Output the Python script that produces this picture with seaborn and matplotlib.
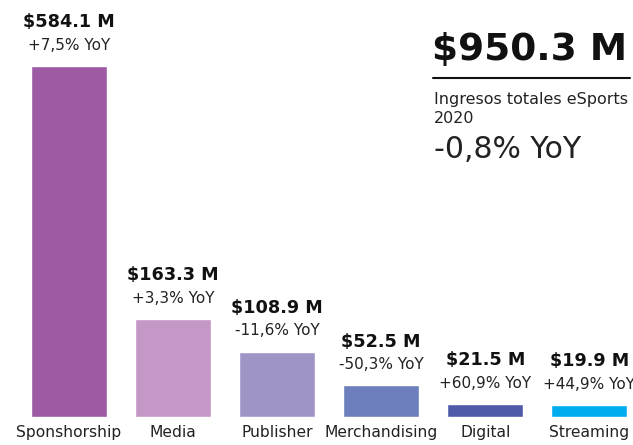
import matplotlib
matplotlib.use("Agg")
import matplotlib.pyplot as plt
import seaborn as sns
import pandas as pd

categories = ["Sponshorship", "Media", "Publisher", "Merchandising", "Digital", "Streaming"]
values = [584.1, 163.3, 108.9, 52.5, 21.5, 19.9]
value_labels = ["$584.1 M", "$163.3 M", "$108.9 M", "$52.5 M", "$21.5 M", "$19.9 M"]
yoy_labels = ["+7,5% YoY", "+3,3% YoY", "-11,6% YoY", "-50,3% YoY", "+60,9% YoY", "+44,9% YoY"]
colors = ["#9C5BA3", "#C597C6", "#A093C6", "#6D7FBC", "#4F5BA8", "#00AEEF"]
total_label = "$950.3 M"
total_desc = "Ingresos totales eSports\n2020"
total_yoy = "-0,8% YoY"

sns.set_theme(style="white")
plt.rcParams['font.family'] = ['DejaVu Sans']

df = pd.DataFrame({"cat": categories, "val": values})

fig = plt.figure(figsize=(6.33, 4.45), dpi=100)
ax = fig.add_axes([17/633, (445-417)/445, 616/633, 417/445])
sns.barplot(data=df, x="cat", y="val", hue="cat", palette=colors, legend=False,
            width=0.73, ax=ax, saturation=1)
ax.set_xlim(-0.5, 5.42)
ax.set_ylim(0, 417/0.601)
for s in ax.spines.values():
    s.set_visible(False)
ax.set_yticks([])
ax.set_xlabel("")
ax.set_ylabel("")
ax.tick_params(axis="x", length=0, pad=6, labelsize=11.2, labelcolor="#222222")

for i, (v, vl, yl) in enumerate(zip(values, value_labels, yoy_labels)):
    ax.annotate(vl, (i, v), xytext=(0, 31.5), textcoords="offset points",
                ha="center", va="center", fontsize=12.7, fontweight="bold", color="#111111")
    ax.annotate(yl, (i, v), xytext=(0, 15), textcoords="offset points",
                ha="center", va="center", fontsize=11, color="#222222")

fig.text(432/633, 1 - 50/445, total_label, ha="left", va="center", fontsize=27,
         fontweight="bold", color="#111111")
fig.add_artist(plt.Line2D([433/633, 630/633], [1 - 78/445, 1 - 78/445], color="#111111", lw=1.5))
fig.text(434/633, 1 - 109/445, total_desc, ha="left", va="center", fontsize=11.5,
         color="#222222", linespacing=1.3)
fig.text(434/633, 1 - 150/445, total_yoy, ha="left", va="center", fontsize=21.5,
         color="#222222")

fig.savefig("out.png", dpi=100)
